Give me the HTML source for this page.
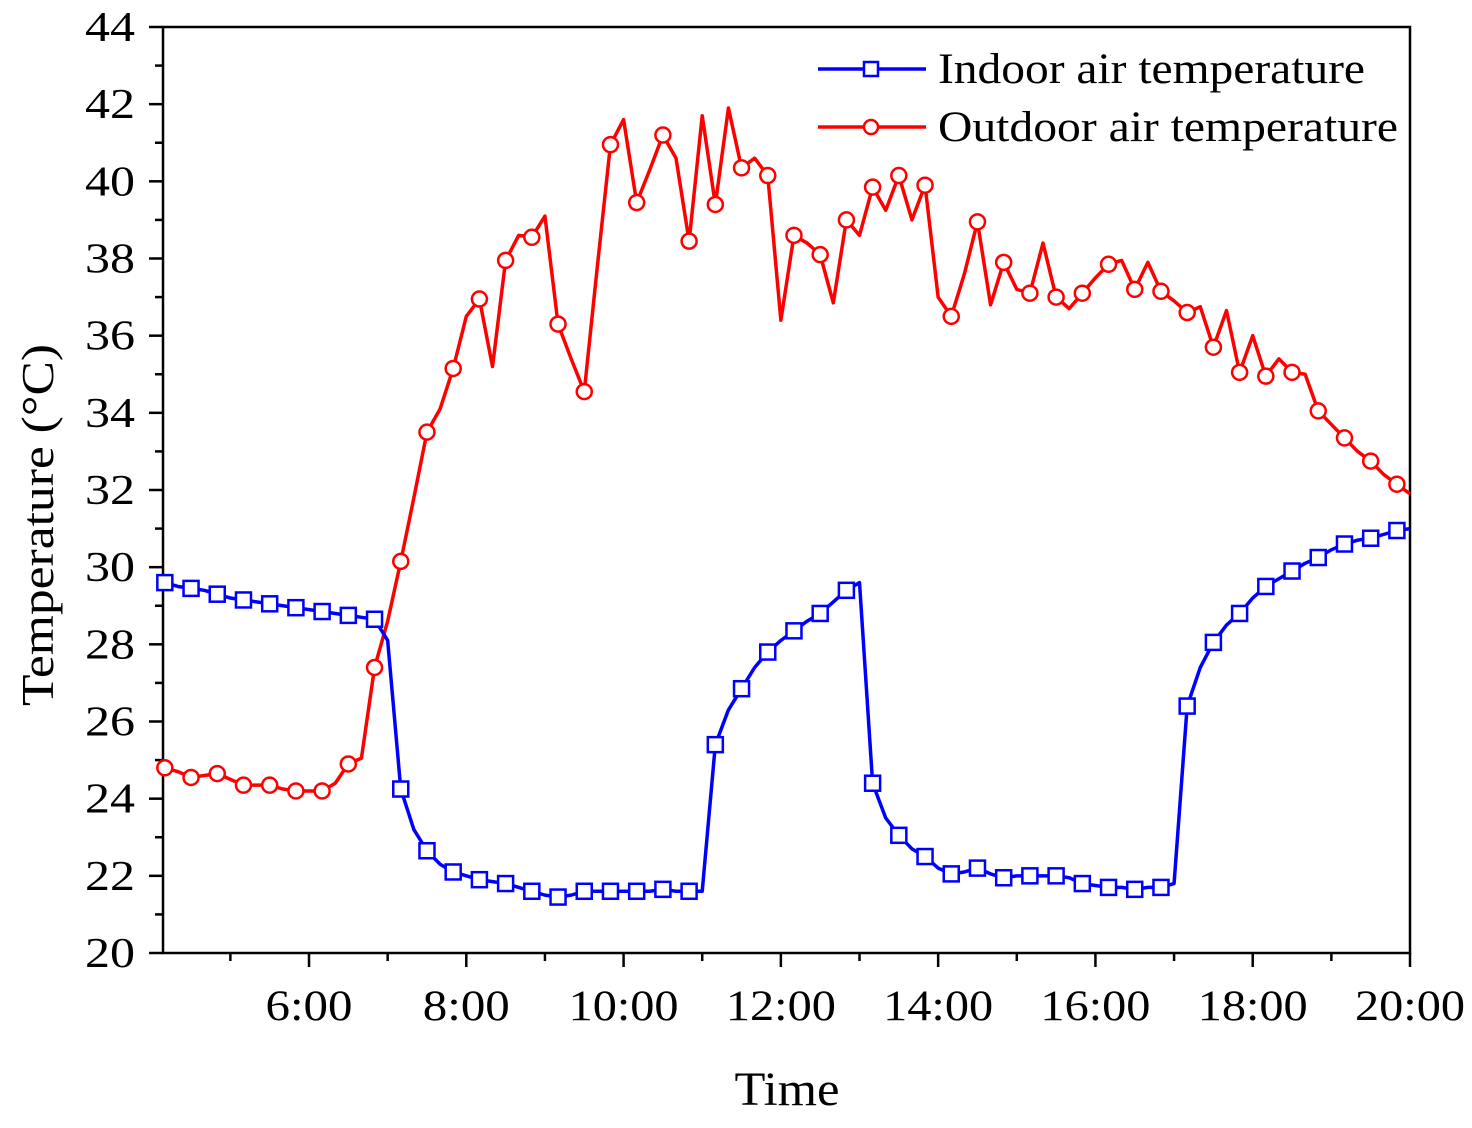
<!DOCTYPE html>
<html><head><meta charset="utf-8"><style>
html,body{margin:0;padding:0;background:#fff;}
svg{display:block;font-family:"Liberation Serif",serif;}
</style></head><body>
<svg id="chart" width="1472" height="1128" viewBox="0 0 1472 1128"></svg>
<script>
const startHour = 4 + 10/60;
const stepMin = 10;
const outdoorTemps = [24.8,24.7,24.55,24.6,24.65,24.5,24.35,24.35,24.35,24.25,24.2,24.2,24.2,24.4,24.9,25.05,27.4,28.6,30.15,31.8,33.5,34.1,35.15,36.5,36.95,35.2,37.95,38.6,38.55,39.1,36.3,35.4,34.55,37.8,40.95,41.6,39.45,40.3,41.2,40.6,38.45,41.7,39.4,41.9,40.35,40.6,40.15,36.4,38.6,38.4,38.1,36.85,39.0,38.6,39.85,39.25,40.15,39.0,39.9,37.0,36.5,37.6,38.95,36.8,37.9,37.2,37.1,38.4,37.0,36.7,37.1,37.5,37.85,37.95,37.2,37.9,37.15,36.9,36.6,36.75,35.7,36.65,35.05,36.0,34.95,35.4,35.05,35.0,34.05,33.7,33.35,33.0,32.75,32.4,32.15,31.9];
const indoorTemps = [29.6,29.5,29.45,29.4,29.3,29.2,29.15,29.1,29.05,29.0,28.95,28.9,28.85,28.8,28.75,28.7,28.65,28.1,24.25,23.2,22.65,22.3,22.1,22.0,21.9,21.85,21.8,21.7,21.6,21.5,21.45,21.5,21.6,21.6,21.6,21.6,21.6,21.6,21.65,21.6,21.6,21.6,25.4,26.3,26.85,27.4,27.8,28.1,28.35,28.6,28.8,29.1,29.4,29.6,24.4,23.5,23.05,22.7,22.5,22.2,22.05,22.1,22.2,22.05,21.95,22.0,22.0,22.0,22.0,21.95,21.8,21.75,21.7,21.7,21.65,21.7,21.7,21.8,26.4,27.4,28.05,28.5,28.8,29.2,29.5,29.7,29.9,30.1,30.25,30.45,30.6,30.7,30.75,30.85,30.95,31.0];
const yTicks = [20,22,24,26,28,30,32,34,36,38,40,42,44];
const xTickHours = [6,8,10,12,14,16,18,20];
const xTickLabels = ["6:00","8:00","10:00","12:00","14:00","16:00","18:00","20:00"];

const NS="http://www.w3.org/2000/svg";
const svg=document.getElementById('chart');
const L=163,R=1410,T=27,B=953;
const xMin=4+8.6/60, xMax=20, yMin=20, yMax=44;
const xs=h=>L+(h-xMin)/(xMax-xMin)*(R-L);
const ys=v=>B-(v-yMin)/(yMax-yMin)*(B-T);
function mk(tag,attrs,parent){const e=document.createElementNS(NS,tag);for(const k in attrs)e.setAttribute(k,attrs[k]);(parent||svg).appendChild(e);return e;}

const frame=mk('rect',{x:L,y:T,width:R-L,height:B-T,fill:'none',stroke:'#000','stroke-width':2.5});



yTicks.forEach(v=>{
  const y=ys(v);
  const t=mk('line',{x1:L-14,x2:L,y1:y,y2:y,stroke:'#000','stroke-width':2.5});
  
  
  const lb=mk('text',{x:135,y:y+14,'text-anchor':'end','font-size':42,fill:'#000',textLength:50,lengthAdjust:'spacingAndGlyphs'});
  lb.textContent=v;
  
  
  if(v<44){const m=mk('line',{x1:L-8,x2:L,y1:ys(v+1),y2:ys(v+1),stroke:'#000','stroke-width':2.5});
    
    }
});
for(let h=5;h<=20;h++){
  const major=h%2===0;
  const t=mk('line',{x1:xs(h),x2:xs(h),y1:B,y2:B+(major?14:8),stroke:'#000','stroke-width':2.5});
  
  
}
xTickHours.forEach((h,i)=>{
  const lb=mk('text',{x:xs(h),y:1020,'text-anchor':'middle','font-size':43,fill:'#000',textLength:xTickLabels[i].length>4?110:87,lengthAdjust:'spacingAndGlyphs'});
  lb.textContent=xTickLabels[i];
  
  
});
const xt=mk('text',{x:787,y:1105,'text-anchor':'middle','font-size':48,fill:'#000',textLength:105,lengthAdjust:'spacingAndGlyphs'});
xt.textContent='Time';


const yt=mk('text',{x:0,y:0,'text-anchor':'middle','font-size':46,fill:'#000',textLength:362,lengthAdjust:'spacingAndGlyphs',transform:'translate(53,525) rotate(-90)'});
yt.textContent='Temperature (°C)';



function series(vals,color,shape,name){
  const g=mk('g',{});
  
  
  const pts=vals.map((v,i)=>[xs(Math.min(startHour+i*stepMin/60,xMax)),ys(v)]);
  mk('polyline',{points:pts.map(p=>p.join(',')).join(' '),fill:'none',stroke:color,'stroke-width':3.5,'stroke-linejoin':'round'},g);
  pts.forEach((p,i)=>{
    if(i%2) return;
    let m;
    if(shape==='sq') m=mk('rect',{x:p[0]-7.5,y:p[1]-7.5,width:15,height:15,fill:'#fff',stroke:color,'stroke-width':2.5},g);
    else m=mk('circle',{cx:p[0],cy:p[1],r:7.5,fill:'#fff',stroke:color,'stroke-width':2.5},g);
    
    
  });
}
series(outdoorTemps,'#ff0000','ci','outdoor-series');
series(indoorTemps,'#0000ff','sq','indoor-series');

const lg=mk('g',{});


[[69,'#0000ff','sq','Indoor air temperature',427],[127,'#ff0000','ci','Outdoor air temperature',460]].forEach(([y,c,s,txt,w])=>{
  mk('line',{x1:818,x2:926,y1:y,y2:y,stroke:c,'stroke-width':3.5},lg);
  if(s==='sq') mk('rect',{x:864,y:y-7,width:14,height:14,fill:'#fff',stroke:c,'stroke-width':2.5},lg);
  else mk('circle',{cx:871,cy:y,r:7,fill:'#fff',stroke:c,'stroke-width':2.5},lg);
  const t=mk('text',{x:938,y:y+14,'font-size':43,fill:'#000',textLength:w,lengthAdjust:'spacingAndGlyphs'},lg);
  t.textContent=txt;
  
  
});
</script>
</body></html>
